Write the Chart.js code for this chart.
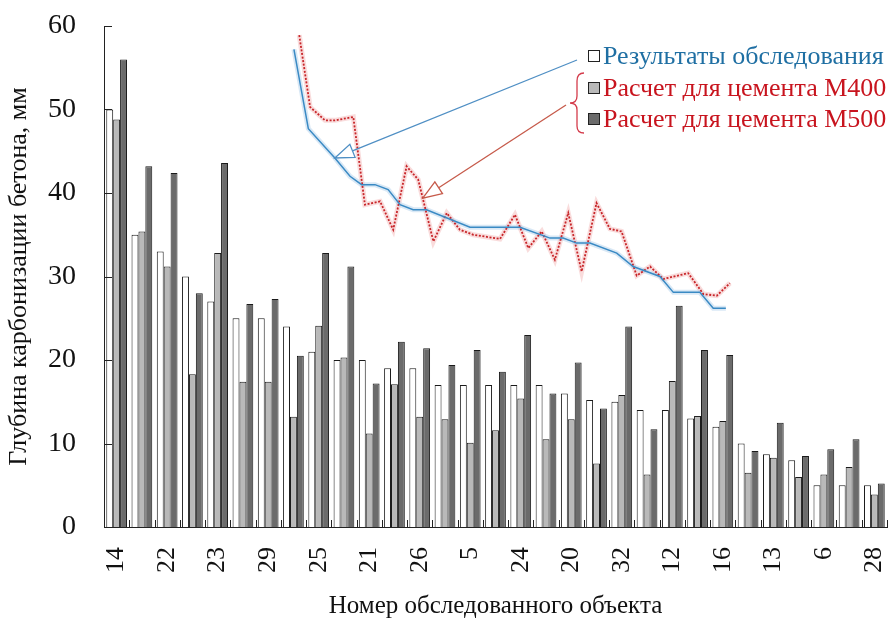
<!DOCTYPE html>
<html lang="ru">
<head>
<meta charset="utf-8">
<title>Глубина карбонизации бетона</title>
<script src="https://cdn.jsdelivr.net/npm/chart.js@4.4.1/dist/chart.umd.min.js"></script>
<style>
  html, body { margin: 0; padding: 0; background: #fff; }
  #wrap { position: relative; width: 890px; height: 626px; }
  #wrap canvas { position: absolute; left: 0; top: 0; }
</style>
</head>
<body>
<div id="wrap">
  <canvas id="barsChart" width="890" height="626"></canvas>
  <canvas id="curvesChart" width="890" height="626"></canvas>
</div>
<script>
// object numbers along the x axis (only every other one is printed)
const objectNumbers = ['14', '', '22', '', '23', '', '29', '', '25', '', '21', '', '26', '', '5', '',
                       '24', '', '20', '', '32', '', '12', '', '16', '', '13', '', '6', '', '28'];

const seriesNames = ['Результаты обследования', 'Расчет для цемента М400', 'Расчет для цемента М500'];

// carbonation depth, mm
const surveyDepth = [50, 35, 33, 30, 27, 25, 25, 24, 21, 20, 20, 19, 19, 17, 17, 17, 17, 17, 16, 15.2,
                     15, 14, 14, 13, 12, 10, 8.7, 8, 5, 5, 5];
const calcM400 = [48.8, 35.4, 31.2, 18.3, 32.8, 17.4, 17.4, 13.2, 24.1, 20.3, 11.2, 17.1, 13.2, 12.9, 10.1, 11.6,
                  15.4, 10.5, 12.9, 7.6, 15.8, 6.3, 17.5, 13.3, 12.7, 6.5, 8.3, 6, 6.3, 7.2, 3.9];
const calcM500 = [56, 43.2, 42.4, 28, 43.6, 26.7, 27.3, 20.5, 32.8, 31.2, 17.2, 22.2, 21.4, 19.4, 21.2, 18.6,
                  23, 16, 19.7, 14.2, 24, 11.7, 26.5, 21.2, 20.6, 9.1, 12.5, 8.5, 9.3, 10.5, 5.2];

// curves panel pasted over the bars (x in object-index units, y in mm)
const surveyCurveX = [7.02, 7.59, 8.64, 9.24, 9.7, 10.23, 10.75, 11.22, 11.74, 12.27, 13.99, 15.97,
                      17.16, 17.68, 18.21, 18.74, 19.8, 20.45, 21.51, 22.04, 23.09, 23.62, 24.12];
const surveyCurveY = [57.2, 47.7, 44.2, 42.0, 41.0, 41.0, 40.4, 38.6, 38.0, 38.0, 35.9, 35.9,
                      34.6, 34.6, 34.0, 34.0, 32.8, 31.2, 30.0, 28.1, 28.1, 26.2, 26.2];
const m400CurveX = [7.23, 7.66, 8.25, 8.64, 9.37, 9.83, 10.43, 10.95, 11.48, 11.94, 12.54, 13.07, 13.59, 14.12,
                    15.18, 15.77, 16.3, 16.83, 17.35, 17.88, 18.41, 19.0, 19.53, 19.99, 20.59, 21.12, 21.64,
                    22.63, 23.23, 23.76, 24.28];
const m400CurveY = [58.9, 50.3, 48.7, 48.7, 49.1, 38.6, 39.0, 35.6, 43.2, 41.6, 34.2, 37.6, 35.6, 35.0,
                    34.5, 37.4, 33.4, 35.4, 32.0, 37.6, 30.6, 38.8, 35.7, 35.4, 30.1, 31.2, 29.7,
                    30.4, 27.9, 27.7, 29.2];

const SERIF = "'Liberation Serif', 'Times New Roman', serif";
const pts = (xs, ys) => xs.map((x, i) => ({ x, y: ys[i] }));

// short tick marks pointing into the plot, as in the original figure
const innerTicks = {
    id: 'innerTicks',
    afterDatasetsDraw(chart) {
        const { ctx, scales: { x, y } } = chart;
        ctx.save();
        ctx.strokeStyle = '#222';
        ctx.lineWidth = 1;
        ctx.beginPath();
        y.ticks.forEach(t => {
            const py = Math.round(y.getPixelForValue(t.value)) + 0.5;
            ctx.moveTo(x.left, py);
            ctx.lineTo(x.left + 8, py);
        });
        for (let i = 0; i < objectNumbers.length; i++) {
            const px = Math.round(x.getPixelForValue(i + 0.5)) + 0.5;
            ctx.moveTo(px, y.bottom);
            ctx.lineTo(px, y.bottom - 7);
        }
        ctx.stroke();
        ctx.restore();
    },
};

const barStyle = { borderColor: '#1a1a1a', borderWidth: 1, borderSkipped: 'start' };

const bars = new Chart(document.getElementById('barsChart'), {
    type: 'bar',
    data: {
        labels: objectNumbers,
        datasets: [
            { label: seriesNames[0], data: surveyDepth, backgroundColor: '#ffffff', ...barStyle },
            { label: seriesNames[1], data: calcM400, backgroundColor: '#b9b9b9', ...barStyle },
            { label: seriesNames[2], data: calcM500, backgroundColor: '#6b6b6b', ...barStyle },
        ],
    },
    options: {
        responsive: false,
        animation: false,
        devicePixelRatio: 1,
        layout: { padding: { left: 0, right: 3, top: 26, bottom: 0 } },
        categoryPercentage: 0.82,
        barPercentage: 1,
        plugins: { legend: { display: false }, tooltip: { enabled: false } },
        scales: {
            x: {
                grid: { display: false },
                border: { color: '#222', width: 1 },
                ticks: {
                    autoSkip: false, minRotation: 90, maxRotation: 90, padding: 12,
                    font: { family: SERIF, size: 26 }, color: '#111',
                },
                title: {
                    display: true, text: 'Номер обследованного объекта',
                    font: { family: SERIF, size: 25 }, color: '#111', padding: { top: 0, bottom: 5 },
                },
                afterFit: s => { s.height = 99; s.paddingLeft = 0; s.paddingRight = 0; },
            },
            y: {
                min: 0, max: 60,
                grid: { display: false },
                border: { color: '#222', width: 1 },
                ticks: { stepSize: 10, padding: 20, font: { family: SERIF, size: 28 }, color: '#111' },
                title: {
                    display: true, text: 'Глубина карбонизации бетона, мм',
                    font: { family: SERIF, size: 26 }, color: '#111', padding: { top: 4, bottom: 0 },
                },
                afterFit: s => { s.width = 104; s.paddingTop = 0; s.paddingBottom = 0; },
            },
        },
    },
    plugins: [innerTicks],
});

function arrow(ctx, from, to, color) {
    const dx = to.x - from.x, dy = to.y - from.y;
    const len = Math.hypot(dx, dy);
    const ux = dx / len, uy = dy / len;
    const head = 19, half = 7;
    const bx = to.x - ux * head, by = to.y - uy * head;
    ctx.save();
    ctx.strokeStyle = color;
    ctx.lineWidth = 1.3;
    ctx.beginPath();
    ctx.moveTo(from.x, from.y);
    ctx.lineTo(bx, by);
    ctx.stroke();
    ctx.beginPath();
    ctx.moveTo(to.x, to.y);
    ctx.lineTo(bx - uy * half, by + ux * half);
    ctx.lineTo(bx + uy * half, by - ux * half);
    ctx.closePath();
    ctx.fillStyle = '#fff';
    ctx.fill();
    ctx.stroke();
    ctx.restore();
}

// legend with the brace and the arrows pointing at the two curves
const annotations = {
    id: 'annotations',
    afterDraw(chart) {
        const { ctx, scales: { x, y } } = chart;
        const lx = 588, rows = [56, 88, 119];
        const fills = ['#ffffff', '#b9b9b9', '#6b6b6b'];
        const textColors = ['#1f6fa3', '#c8141e', '#c8141e'];
        ctx.save();
        ctx.font = `26px ${SERIF}`;
        ctx.textBaseline = 'middle';
        rows.forEach((ry, i) => {
            ctx.fillStyle = fills[i];
            ctx.fillRect(lx + 0.5, ry - 5.5, 11, 11);
            ctx.strokeStyle = '#222';
            ctx.lineWidth = 1;
            ctx.strokeRect(lx + 0.5, ry - 5.5, 11, 11);
            ctx.fillStyle = textColors[i];
            ctx.fillText(seriesNames[i], lx + 15, ry + 1);
        });

        // brace grouping the two calculated series
        ctx.strokeStyle = '#d43c4c';
        ctx.lineWidth = 1.3;
        ctx.beginPath();
        ctx.moveTo(584, 73);
        ctx.quadraticCurveTo(577, 73, 577, 81);
        ctx.lineTo(577, 96);
        ctx.quadraticCurveTo(577, 103, 570, 103);
        ctx.quadraticCurveTo(577, 103, 577, 110);
        ctx.lineTo(577, 126);
        ctx.quadraticCurveTo(577, 133, 584, 133);
        ctx.stroke();
        ctx.restore();

        const blueTip = { x: x.getPixelForValue(surveyCurveX[2]), y: y.getPixelForValue(surveyCurveY[2]) };
        const f = 0.3;
        const redTip = {
            x: x.getPixelForValue(m400CurveX[9] + (m400CurveX[10] - m400CurveX[9]) * f),
            y: y.getPixelForValue(m400CurveY[9] + (m400CurveY[10] - m400CurveY[9]) * f),
        };
        arrow(ctx, { x: 577, y: 60 }, blueTip, '#4f8fc4');
        arrow(ctx, { x: 566, y: 105 }, redTip, '#c65a4a');
    },
};

// the curves share the plot area of the bar chart
const area = bars.chartArea;
const curveStyle = { pointRadius: 0, tension: 0, clip: false };

new Chart(document.getElementById('curvesChart'), {
    type: 'line',
    data: {
        datasets: [
            { ...curveStyle, data: pts(surveyCurveX, surveyCurveY), borderColor: '#3a8ac4', borderWidth: 1.5 },
            { ...curveStyle, data: pts(m400CurveX, m400CurveY), borderColor: '#c8262a',
              borderDash: [2, 1.6], borderWidth: 1.8 },
            { ...curveStyle, data: pts(surveyCurveX, surveyCurveY), borderColor: 'rgba(170,205,232,0.45)', borderWidth: 5 },
            { ...curveStyle, data: pts(m400CurveX, m400CurveY), borderColor: 'rgba(244,185,185,0.5)', borderWidth: 5 },
        ],
    },
    options: {
        responsive: false,
        animation: false,
        devicePixelRatio: 1,
        layout: {
            padding: {
                left: area.left, top: area.top,
                right: bars.width - area.right, bottom: bars.height - area.bottom,
            },
        },
        plugins: { legend: { display: false }, tooltip: { enabled: false } },
        scales: {
            x: { type: 'linear', display: false, offset: false, min: -0.5, max: objectNumbers.length - 0.5 },
            y: { type: 'linear', display: false, min: 0, max: 60 },
        },
    },
    plugins: [annotations],
});
</script>
</body>
</html>
